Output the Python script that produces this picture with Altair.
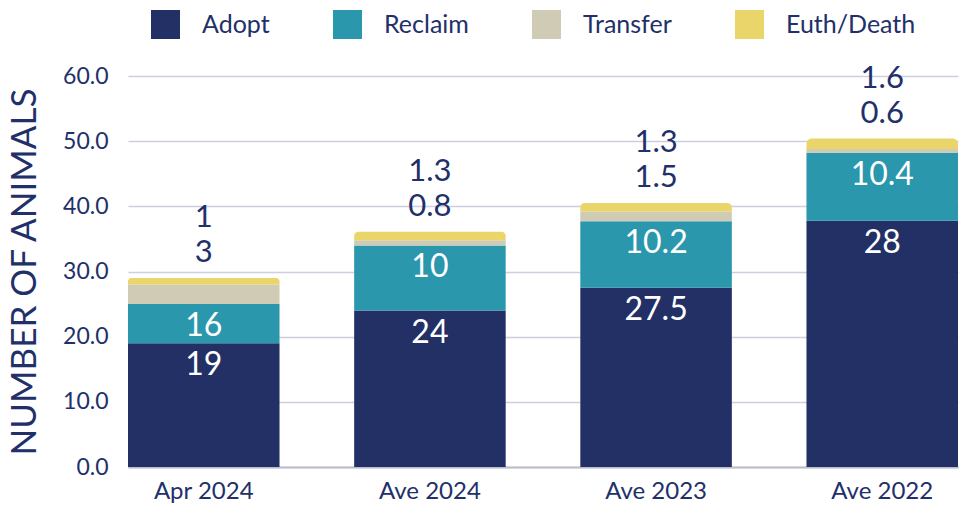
import altair as alt
import pandas as pd

categories = ["Apr 2024", "Ave 2024", "Ave 2023", "Ave 2022"]
series = ["Adopt", "Reclaim", "Transfer", "Euth/Death"]
adopt = [19, 24, 27.5, 37.8]
reclaim = [6, 10, 10.2, 10.4]
transfer = [3, 0.8, 1.5, 0.6]
euth = [1, 1.3, 1.3, 1.6]
adopt_labels = ["19", "24", "27.5", "28"]
reclaim_labels = ["16", "10", "10.2", "10.4"]
transfer_labels = ["3", "0.8", "1.5", "0.6"]
euth_labels = ["1", "1.3", "1.3", "1.6"]
colors = ["#223066", "#2a97ad", "#d0cbb4", "#ead56b"]

NAVY = "#22306a"
FONT = "Lato"

values = [adopt, reclaim, transfer, euth]
labels = [adopt_labels, reclaim_labels, transfer_labels, euth_labels]
rows = []
for i, cat in enumerate(categories):
    total = sum(v[i] for v in values)
    cum = 0.0
    for k, s in enumerate(series):
        v = values[k][i]
        rows.append(dict(cat=cat, series=s, order=k, start=cum, end=cum + v,
                         total=total, label=labels[k][i]))
        cum += v
df = pd.DataFrame(rows)

base = alt.Chart(df)
x_enc = alt.X("cat:N", sort=categories,
              scale=alt.Scale(paddingInner=0.33, paddingOuter=0),
              axis=alt.Axis(title=None, labelAngle=0, labelFont=FONT, labelFontSize=24,
                            labelColor=NAVY, labelPadding=12, ticks=False,
                            domainColor="#b9bccf", domainWidth=2))
y_enc = alt.Y("start:Q",
              scale=alt.Scale(domain=[0, 60], nice=False),
              axis=alt.Axis(title="NUMBER OF ANIMALS", values=[0, 10, 20, 30, 40, 50, 60],
                            format=".1f", labelFont=FONT, labelFontSize=23, labelColor=NAVY,
                            labelPadding=20, ticks=False, domain=False,
                            gridColor="#cdcfdf", gridWidth=1.5,
                            titleFont=FONT, titleFontSize=35, titleFontWeight="normal",
                            titleColor=NAVY, titlePadding=20))
color_enc = alt.Color("series:N", scale=alt.Scale(domain=series, range=colors),
                      legend=alt.Legend(title=None, orient="none", direction="horizontal",
                                        legendX=23, legendY=-66,
                                        symbolType="square", symbolSize=840,
                                        symbolStrokeWidth=0, symbolOpacity=1,
                                        labelFont=FONT, labelFontSize=25, labelColor=NAVY,
                                        labelOffset=22, columnPadding=63))

bars = base.transform_filter(alt.datum.series != "Euth/Death").mark_bar().encode(
    x=x_enc, y=y_enc, y2="end:Q", color=color_enc)
top_bars = base.transform_filter(alt.datum.series == "Euth/Death").mark_bar(
    cornerRadiusTopLeft=10, cornerRadiusTopRight=10).encode(
    x=x_enc, y=y_enc, y2="end:Q", color=color_enc)

inside = base.transform_filter(
    (alt.datum.series == "Adopt") | (alt.datum.series == "Reclaim")
).mark_text(color="white", font=FONT, fontSize=32, baseline="middle", dy=22).encode(
    x=alt.X("cat:N", sort=categories), y=alt.Y("end:Q"), text="label:N")

above_t = base.transform_filter(alt.datum.series == "Transfer").mark_text(
    color=NAVY, font=FONT, fontSize=31, baseline="middle", dy=-25).encode(
    x=alt.X("cat:N", sort=categories), y=alt.Y("total:Q"), text="label:N")
above_e = base.transform_filter(alt.datum.series == "Euth/Death").mark_text(
    color=NAVY, font=FONT, fontSize=31, baseline="middle", dy=-60).encode(
    x=alt.X("cat:N", sort=categories), y=alt.Y("total:Q"), text="label:N")

chart = alt.layer(bars, top_bars, inside, above_t, above_e).properties(
    width=830, height=391,
    padding={"left": 128, "top": 76, "right": 3, "bottom": 41},
    autosize=alt.AutoSizeParams(type="none"),
).configure_view(strokeWidth=0)

chart.save("out.html", embed_options={"renderer": "svg", "actions": False})
